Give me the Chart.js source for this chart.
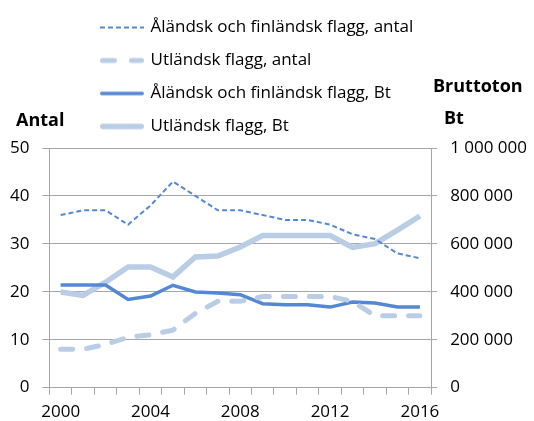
<!DOCTYPE html>
<html>
<head>
<meta charset="utf-8">
<script src="https://cdn.jsdelivr.net/npm/chart.js@4"></script>
<style>
  body { margin: 0; background: #fff; }
  #wrap { width: 534px; height: 421px; }
</style>
</head>
<body>
<div id="wrap"><canvas id="line-flagg"></canvas></div>
<script>
var years = ['2000','2001','2002','2003','2004','2005','2006','2007','2008','2009','2010','2011','2012','2013','2014','2015','2016'];

// antal fartyg (vänster axel)
var alandFinAntal = [36, 37, 37, 34, 38, 43, 40, 37, 37, 36, 35, 35, 34, 32, 31, 28, 27];
var utlAntal      = [8, 8, 9, 10.5, 11, 12, 15.5, 18, 18, 19, 19, 19, 19, 18, 15, 15, 15];

// bruttoton (höger axel)
var alandFinBt = [428000, 428000, 428000, 368000, 382000, 427000, 399000, 395000, 388000, 350000, 346000, 346000, 336000, 357000, 353000, 336000, 336000];
var utlBt      = [399000, 385000, 440000, 503000, 503000, 462000, 545000, 549000, 587000, 635000, 635000, 635000, 635000, 585000, 601000, 657000, 716000];

var seriesNames = ['Åländsk och finländsk flagg, antal', 'Utländsk flagg, antal', 'Åländsk och finländsk flagg, Bt', 'Utländsk flagg, Bt'];
var leftTitle = 'Antal';
var rightTitle = ['Bruttoton', 'Bt'];

var dark = '#5588D4';
var light = '#B9CDE5';
var gridGray = '#A6A6A6';

function spaced(v) {
  return v.toString().replace(/\B(?=(\d{3})+(?!\d))/g, ' ');
}

// liten bild av linjen till legenden (så att streckningen syns)
function legendLine(color, width, dash, cap) {
  var c = document.createElement('canvas');
  c.width = 44;
  c.height = 10;
  var g = c.getContext('2d');
  g.strokeStyle = color;
  g.lineWidth = width;
  g.lineCap = cap || 'butt';
  g.setLineDash(dash || []);
  g.beginPath();
  var pad = cap === 'round' ? width / 2 : 0;
  g.moveTo(pad, 5);
  g.lineTo(44 - pad, 5);
  g.stroke();
  return c;
}

// flytta legenden
var legendShift = {
  id: 'legendShift',
  beforeDraw: function(chart) {
    chart.legend.left = 86;
    chart.legend.right = 534;
    chart.legend.top = 3;
  }
};

// axeltitlar ovanför axlarna
var axisTitles = {
  id: 'axisTitles',
  afterDraw: function(chart) {
    var ctx = chart.ctx;
    ctx.save();
    ctx.font = 'bold 18px "Open Sans"';
    ctx.fillStyle = '#000';
    ctx.textBaseline = 'middle';
    ctx.fillText(leftTitle, 16, 121);
    ctx.fillText(rightTitle[0], 433, 87);
    ctx.fillText(rightTitle[1], 444, 119);
    ctx.restore();
  }
};

Chart.defaults.font.family = '"Open Sans", sans-serif';
Chart.defaults.font.size = 17;
Chart.defaults.color = '#000';

var linechart = document.getElementById('line-flagg');
var chart = new Chart(linechart, {
  type: 'line',
  data: {
    labels: years,
    datasets: [{
      label: seriesNames[0],
      data: alandFinAntal,
      yAxisID: 'y',
      borderColor: dark,
      backgroundColor: dark,
      borderWidth: 2,
      borderDash: [5, 3],
      pointStyle: legendLine(dark, 2, [5, 3])
    }, {
      label: seriesNames[1],
      data: utlAntal,
      yAxisID: 'y',
      borderColor: light,
      backgroundColor: light,
      borderWidth: 5,
      borderDash: [12, 14],
      borderCapStyle: 'round',
      pointStyle: legendLine(light, 5, [12, 17], 'round')
    }, {
      label: seriesNames[2],
      data: alandFinBt,
      yAxisID: 'y1',
      borderColor: dark,
      backgroundColor: dark,
      borderWidth: 3.5,
      pointStyle: legendLine(dark, 3.5, [], 'round')
    }, {
      label: seriesNames[3],
      data: utlBt,
      yAxisID: 'y1',
      borderColor: light,
      backgroundColor: light,
      borderWidth: 5.5,
      pointStyle: legendLine(light, 5.5, [], 'round')
    }]
  },
  options: {
    responsive: true,
    maintainAspectRatio: false,
    animation: false,
    layout: { padding: { top: 6, left: -3, right: -6, bottom: -8 } },
    elements: { point: { radius: 0, hoverRadius: 0 }, line: { tension: 0 } },
    plugins: {
      tooltip: { enabled: false },
      legend: {
        position: 'top',
        align: 'start',
        fullSize: false,
        labels: {
          usePointStyle: true,
          pointStyleWidth: 40,
          padding: 16,
          color: '#000',
          font: { size: 17 }
        }
      }
    },
    scales: {
      x: {
        offset: true,
        grid: { offset: true, drawOnChartArea: false, color: gridGray, tickLength: 7 },
        border: { color: gridGray },
        ticks: {
          autoSkip: false,
          maxRotation: 0,
          padding: 7,
          callback: function(v, i) { return i % 4 === 0 ? years[i] : ''; }
        }
      },
      y: {
        position: 'left',
        min: 0,
        max: 50,
        ticks: { stepSize: 10, padding: 13 },
        grid: { color: gridGray, tickLength: 7 },
        border: { color: gridGray }
      },
      y1: {
        position: 'right',
        min: 0,
        max: 1000000,
        ticks: { stepSize: 200000, padding: 13, callback: function(v) { return spaced(v); } },
        grid: { drawOnChartArea: false, color: gridGray, tickLength: 6 },
        border: { color: gridGray }
      }
    }
  },
  plugins: [legendShift, axisTitles]
});
</script>
</body>
</html>
